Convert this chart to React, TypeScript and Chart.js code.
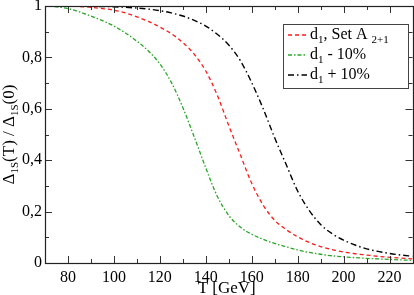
import React, { useEffect, useRef } from 'react';
import { Chart, registerables } from 'chart.js';

Chart.register(...registerables);

// Temperature grid (GeV)
const T_VALUES = [70, 75, 80, 85, 90, 95, 100, 105, 110, 115, 120, 125, 130, 135, 140, 145, 150, 155, 160, 165, 170, 175, 180, 185, 190, 195, 200, 205, 210, 215, 220, 225, 230];

// d1, Set A 2+1
const SET_A = [1.0, 1.0, 0.999, 0.998, 0.995, 0.99, 0.984, 0.973, 0.958, 0.94, 0.918, 0.892, 0.858, 0.812, 0.747, 0.653, 0.535, 0.422, 0.31, 0.225, 0.166, 0.13, 0.102, 0.08, 0.064, 0.052, 0.043, 0.036, 0.031, 0.026, 0.022, 0.019, 0.016];
// d1 - 10%
const MINUS_10 = [1.0, 0.997, 0.99, 0.977, 0.961, 0.943, 0.922, 0.895, 0.863, 0.825, 0.775, 0.703, 0.605, 0.49, 0.37, 0.26, 0.185, 0.14, 0.112, 0.092, 0.076, 0.063, 0.051, 0.041, 0.034, 0.028, 0.024, 0.021, 0.018, 0.016, 0.014, 0.012, 0.01];
// d1 + 10%
const PLUS_10 = [1.0, 1.0, 1.0, 1.0, 0.999, 0.998, 0.997, 0.995, 0.992, 0.988, 0.982, 0.973, 0.961, 0.944, 0.922, 0.89, 0.848, 0.788, 0.702, 0.6, 0.487, 0.383, 0.28, 0.205, 0.15, 0.114, 0.089, 0.07, 0.055, 0.045, 0.037, 0.031, 0.026];

// Labels (with _{...} marking subscripts)
const SERIES_LABELS = ['d_{1}, Set A _{2+1}', 'd_{1} - 10%', 'd_{1} + 10%'];
const X_TITLE = 'T [GeV]';
const Y_TITLE = 'Δ_{1S}(T) / Δ_{1S}(0)';

// Axis ranges and ticks
const X_MIN = 70;
const X_MAX = 230;
const X_MINOR_STEP = 10;
const X_MAJOR_STEP = 20;
const Y_MIN = 0;
const Y_MAX = 1;
const Y_MINOR_STEP = 0.1;

const FONT = "'Liberation Serif', 'Times New Roman', serif";

function parseRich(s: string): { t: string; sub: boolean }[] {
  const out: { t: string; sub: boolean }[] = [];
  const re = /_\{([^}]*)\}/g;
  let last = 0;
  let m: RegExpExecArray | null;
  while ((m = re.exec(s))) {
    if (m.index > last) out.push({ t: s.slice(last, m.index), sub: false });
    out.push({ t: m[1], sub: true });
    last = m.index + m[0].length;
  }
  if (last < s.length) out.push({ t: s.slice(last), sub: false });
  return out;
}

function richWidth(ctx: CanvasRenderingContext2D, s: string, size: number, subSize: number) {
  let w = 0;
  for (const p of parseRich(s)) {
    ctx.font = `${p.sub ? subSize : size}px ${FONT}`;
    w += ctx.measureText(p.t).width;
  }
  return w;
}

function drawRich(ctx: CanvasRenderingContext2D, s: string, x: number, y: number, size: number, subSize: number, shift: number) {
  let cx = x;
  ctx.textBaseline = 'alphabetic';
  ctx.textAlign = 'left';
  for (const p of parseRich(s)) {
    ctx.font = `${p.sub ? subSize : size}px ${FONT}`;
    ctx.fillText(p.t, cx, p.sub ? y + shift : y);
    cx += ctx.measureText(p.t).width;
  }
  return cx - x;
}

const decorPlugin = {
  id: 'decor',
  afterDatasetsDraw(chart: any) {
    const { ctx, chartArea: a, scales } = chart;
    const xs = scales.x;
    const ys = scales.y;
    ctx.save();
    // ticks (inward, all four sides)
    ctx.strokeStyle = '#333';
    ctx.lineWidth = 1;
    ctx.beginPath();
    for (const t of xs.ticks) {
      const v = t.value;
      if (v <= X_MIN || v >= X_MAX) continue;
      const major = Math.abs(v / X_MAJOR_STEP - Math.round(v / X_MAJOR_STEP)) < 1e-6;
      const len = major ? 7 : 4;
      const px = Math.round(xs.getPixelForValue(v)) + 0.5;
      ctx.moveTo(px, a.bottom);
      ctx.lineTo(px, a.bottom - len);
      ctx.moveTo(px, a.top);
      ctx.lineTo(px, a.top + len);
    }
    for (const t of ys.ticks) {
      const v = t.value;
      if (v <= Y_MIN + 1e-9 || v >= Y_MAX - 1e-9) continue;
      const major = Math.round(v * 10) % 2 === 0;
      const len = major ? 7 : 4;
      const py = Math.round(ys.getPixelForValue(v)) + 0.5;
      ctx.moveTo(a.left, py);
      ctx.lineTo(a.left + len, py);
      ctx.moveTo(a.right, py);
      ctx.lineTo(a.right - len, py);
    }
    ctx.stroke();
    // frame
    ctx.strokeStyle = '#222';
    ctx.lineWidth = 1.2;
    ctx.strokeRect(Math.round(a.left) + 0.5, Math.round(a.top) + 0.5, Math.round(a.right - a.left), Math.round(a.bottom - a.top));

    ctx.fillStyle = '#000';
    // x title
    const xw = richWidth(ctx, X_TITLE, 17, 11);
    drawRich(ctx, X_TITLE, (a.left + a.right) / 2 - xw / 2 - 2, 292.5, 17, 11, 4);

    // y title (rotated)
    ctx.save();
    ctx.translate(13.5, (a.top + a.bottom) / 2);
    ctx.rotate(-Math.PI / 2);
    const yw = richWidth(ctx, Y_TITLE, 17, 11);
    drawRich(ctx, Y_TITLE, -yw / 2, 0, 17, 11, 4);
    ctx.restore();

    // legend
    const bx = 283.5, by = 24.5, bw = 125, bh = 64;
    ctx.fillStyle = '#fff';
    ctx.fillRect(bx, by, bw, bh);
    ctx.strokeStyle = '#444';
    ctx.lineWidth = 1;
    ctx.strokeRect(bx, by, bw, bh);
    chart.data.datasets.forEach((ds: any, i: number) => {
      const base = 38.5 + i * 20;
      ctx.save();
      ctx.strokeStyle = ds.borderColor;
      ctx.lineWidth = ds.borderWidth;
      ctx.setLineDash(ds.borderDash || []);
      ctx.beginPath();
      ctx.moveTo(288, base - 3.5);
      ctx.lineTo(307, base - 3.5);
      ctx.stroke();
      ctx.restore();
      ctx.fillStyle = '#000';
      drawRich(ctx, SERIES_LABELS[i], 310, base, 16, 11, 4);
    });
    ctx.restore();
  },
};

export default function App() {
  const ref = useRef<HTMLCanvasElement>(null);
  useEffect(() => {
    document.body.style.margin = '0';
    const toPts = (ys: number[]) => T_VALUES.map((t, i) => ({ x: t, y: ys[i] }));
    const chart = new Chart(ref.current as HTMLCanvasElement, {
      type: 'line',
      data: {
        datasets: [
          { label: SERIES_LABELS[0], data: toPts(SET_A), borderColor: '#ff1a1a', borderWidth: 1.3, borderDash: [4, 3], pointRadius: 0, cubicInterpolationMode: 'monotone', fill: false },
          { label: SERIES_LABELS[1], data: toPts(MINUS_10), borderColor: '#2aa52a', borderWidth: 1.3, borderDash: [4, 2, 1.5, 2], pointRadius: 0, cubicInterpolationMode: 'monotone', fill: false },
          { label: SERIES_LABELS[2], data: toPts(PLUS_10), borderColor: '#000000', borderWidth: 1.4, borderDash: [6, 3, 1.5, 3], pointRadius: 0, cubicInterpolationMode: 'monotone', fill: false },
        ],
      } as any,
      options: {
        responsive: false,
        animation: false,
        devicePixelRatio: 1,
        layout: { padding: { top: 6, right: 1.5, left: 0, bottom: 0 } },
        plugins: { legend: { display: false }, tooltip: { enabled: false }, title: { display: false } },
        scales: {
          x: {
            type: 'linear',
            min: X_MIN,
            max: X_MAX,
            grid: { display: false, drawTicks: false },
            border: { display: false },
            ticks: {
              stepSize: X_MINOR_STEP,
              autoSkip: false,
              maxRotation: 0,
              minRotation: 0,
              padding: 5,
              color: '#000',
              font: { family: FONT, size: 16 },
              callback: (v: any) => {
                const n = Number(v);
                if (n <= X_MIN || n >= X_MAX) return '';
                return n % X_MAJOR_STEP === 0 ? String(n) : '';
              },
            },
            afterFit: (s: any) => {
              s.height = 32;
              s.paddingLeft = 0;
              s.paddingRight = 0;
            },
          },
          y: {
            type: 'linear',
            min: Y_MIN,
            max: Y_MAX,
            grid: { display: false, drawTicks: false },
            border: { display: false },
            ticks: {
              stepSize: Y_MINOR_STEP,
              autoSkip: false,
              padding: 3,
              color: '#000',
              font: { family: FONT, size: 16 },
              callback: (v: any) => {
                const n = Number(v);
                const k = Math.round(n * 10);
                if (k % 2 !== 0) return '';
                if (k === 0) return '0';
                if (k === 10) return '1';
                return (k / 10).toFixed(1).replace('.', ',');
              },
            },
            afterFit: (s: any) => {
              s.width = 45;
              s.paddingTop = 0;
              s.paddingBottom = 0;
            },
          },
        },
      } as any,
      plugins: [decorPlugin],
    });
    return () => chart.destroy();
  }, []);
  return (
    <div style={{ position: 'fixed', left: 0, top: 0, width: 414, height: 295, background: '#fff' }}>
      <canvas ref={ref} width={414} height={295} style={{ width: 414, height: 295, display: 'block' }} />
    </div>
  );
}
